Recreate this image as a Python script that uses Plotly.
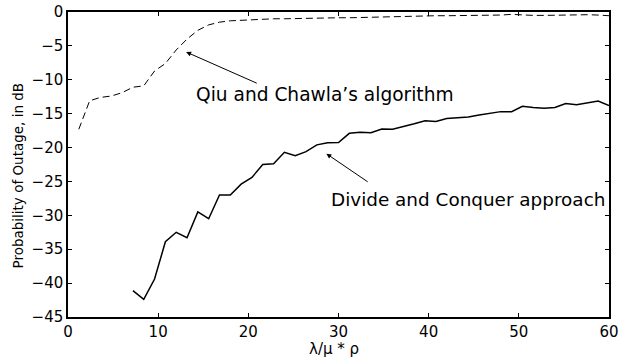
import plotly.graph_objects as go

# ---- data ----
x_solid = [7.2, 8.4, 9.6, 10.8, 12.0, 13.2, 14.4, 15.6, 16.8, 18.0, 19.2, 20.4, 21.6, 22.8, 24.0,
           25.2, 26.4, 27.6, 28.8, 30.0, 31.2, 32.4, 33.6, 34.8, 36.0, 37.2, 38.4, 39.6, 40.8, 42.0,
           43.2, 44.4, 45.6, 46.8, 48.0, 49.2, 50.4, 51.6, 52.8, 54.0, 55.2, 56.4, 57.6, 58.8, 60.0]
y_divide = [-41.1, -42.4, -39.4, -33.9, -32.5, -33.3, -29.5, -30.5, -27.0, -27.0, -25.4, -24.4, -22.5, -22.4, -20.7,
            -21.2, -20.6, -19.6, -19.3, -19.25, -17.9, -17.75, -17.8, -17.25, -17.3, -16.95, -16.5, -16.05, -16.15, -15.7,
            -15.6, -15.5, -15.2, -14.9, -14.7, -14.7, -13.9, -14.1, -14.2, -14.1, -13.5, -13.7, -13.4, -13.15, -13.8]

x_dashed = [1.2, 2.4, 3.6, 4.8, 6.0, 7.2, 8.4, 9.6, 10.8, 12.0, 13.2, 14.4, 15.6, 16.8, 18.0,
            19.2, 20.4, 21.6, 22.8, 24.0, 25.2, 26.4, 27.6, 28.8, 30.0, 31.2, 32.4, 33.6, 34.8, 36.0,
            37.2, 38.4, 39.6, 40.8, 42.0, 43.2, 44.4, 45.6, 46.8, 48.0, 49.2, 50.4, 51.6, 52.8, 54.0,
            55.2, 56.4, 57.6, 58.8, 60.0]
y_qiu = [-17.3, -13.1, -12.6, -12.4, -11.9, -11.1, -10.9, -8.7, -7.6, -5.6, -4.0, -2.7, -1.9, -1.5, -1.3,
         -1.2, -1.1, -1.05, -1.0, -1.0, -0.95, -0.95, -0.9, -0.9, -0.85, -0.85, -0.8, -0.75, -0.7, -0.65,
         -0.6, -0.6, -0.6, -0.55, -0.55, -0.55, -0.5, -0.5, -0.5, -0.45, -0.35, -0.45, -0.5, -0.5, -0.45,
         -0.45, -0.4, -0.4, -0.45, -0.55]

x_ticks = [0, 10, 20, 30, 40, 50, 60]
y_ticks = [0, -5, -10, -15, -20, -25, -30, -35, -40, -45]
y_ticktext = ["0", "\u22125", "\u221210", "\u221215", "\u221220", "\u221225", "\u221230", "\u221235", "\u221240", "\u221245"]

FONT = "DejaVu Sans, Arial, sans-serif"

fig = go.Figure()
fig.add_trace(go.Scatter(x=x_dashed, y=y_qiu, mode="lines",
                         line=dict(color="black", width=1, dash="7px,4px"), showlegend=False))
fig.add_trace(go.Scatter(x=x_solid, y=y_divide, mode="lines",
                         line=dict(color="black", width=1.5), showlegend=False))

axis_common = dict(showgrid=False, zeroline=False, showline=True, linecolor="black", linewidth=1.5,
                   mirror="ticks", ticks="inside", ticklen=4, tickcolor="black", tickwidth=1,
                   automargin=False,
                   tickfont=dict(family=FONT, size=15, color="black"))

fig.update_xaxes(range=[0, 60], tickvals=x_ticks, **axis_common)
fig.update_yaxes(range=[-45, 0], tickvals=y_ticks, ticktext=y_ticktext, **axis_common)

annos = [
    dict(x=14.0, y=-12.1, text="Qiu and Chawla\u2019s algorithm", xanchor="left", yanchor="middle",
         showarrow=False, font=dict(family=FONT, size=18.6, color="black")),
    dict(x=29.0, y=-27.7, text="Divide and Conquer approach", xanchor="left", yanchor="middle",
         showarrow=False, font=dict(family=FONT, size=18.4, color="black")),
    dict(x=13.1, y=-5.9, ax=21.1, ay=-10.6, axref="x", ayref="y", text="", showarrow=True,
         arrowhead=2, arrowsize=1, arrowwidth=1, arrowcolor="black", standoff=0),
    dict(x=28.65, y=-20.9, ax=33.4, ay=-25.2, axref="x", ayref="y", text="", showarrow=True,
         arrowhead=2, arrowsize=1, arrowwidth=1, arrowcolor="black", standoff=0),
    dict(xref="paper", yref="paper", x=(334 - 68) / 541, y=(317 - 349) / 305, text="\u03bb/\u03bc * \u03c1",
         showarrow=False, xanchor="center", yanchor="middle", font=dict(family=FONT, size=15, color="black")),
    dict(xref="paper", yref="paper", x=(17 - 68) / 541, y=(317 - 175.5) / 305,
         text="Probability of Outage, in dB", textangle=-90,
         showarrow=False, xanchor="center", yanchor="middle", font=dict(family=FONT, size=13.5, color="black")),
]
fig.update_layout(width=620, height=360, margin=dict(l=68, r=11, t=12, b=43),
                  paper_bgcolor="white", plot_bgcolor="white", annotations=annos,
                  font=dict(family=FONT, color="black"))

fig.write_html("out.html")
